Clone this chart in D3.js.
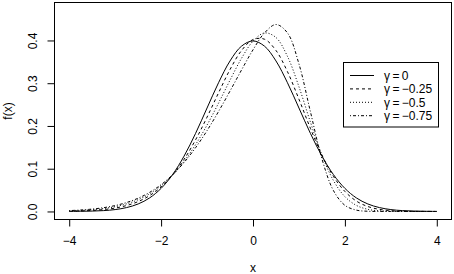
<!DOCTYPE html>
<html>
<head>
<meta charset="utf-8">
<script src="https://cdn.jsdelivr.net/npm/d3@7"></script>
<style>
  html, body { margin: 0; padding: 0; background: #fff; }
  svg { display: block; }
  text { font-family: "Liberation Sans", Arial, Helvetica, sans-serif; fill: #000; }
</style>
</head>
<body>
<svg id="chart" width="454" height="274"></svg>
<script>
// ---- data ----
const xValues = [-4, -3.75, -3.5, -3.25, -3, -2.75, -2.5, -2.25, -2, -1.75, -1.5, -1.25, -1, -0.75, -0.5, -0.25,
  0, 0.25, 0.5, 0.75, 1, 1.25, 1.5, 1.75, 2, 2.25, 2.5, 2.75, 3, 3.25, 3.5, 3.75, 4];

const densGamma0 = [0.0001, 0.0004, 0.0009, 0.0020, 0.0044, 0.0091, 0.0175, 0.0317, 0.0540, 0.0863, 0.1295, 0.1826, 0.2420, 0.3011, 0.3521, 0.3867,
  0.3989, 0.3867, 0.3521, 0.3011, 0.2420, 0.1826, 0.1295, 0.0863, 0.0540, 0.0317, 0.0175, 0.0091, 0.0044, 0.0020, 0.0009, 0.0004, 0.0001];

const densGammaM025 = [0.0006, 0.0013, 0.0024, 0.0045, 0.0080, 0.0139, 0.0231, 0.0371, 0.0573, 0.0852, 0.1219, 0.1675, 0.2206, 0.2774, 0.3320, 0.3764,
  0.4021, 0.4029, 0.3766, 0.3270, 0.2626, 0.1943, 0.1320, 0.0822, 0.0468, 0.0243, 0.0115, 0.0049, 0.0019, 0.0007, 0.0002, 0.0001, 0.0000];

const densGammaM05 = [0.0013, 0.0023, 0.0040, 0.0068, 0.0112, 0.0178, 0.0275, 0.0413, 0.0603, 0.0853, 0.1172, 0.1562, 0.2021, 0.2534, 0.3072, 0.3582,
  0.3983, 0.4176, 0.4069, 0.3628, 0.2918, 0.2089, 0.1317, 0.0725, 0.0346, 0.0142, 0.0050, 0.0015, 0.0004, 0.0001, 0.0000, 0.0000, 0.0000];

const densGammaM075 = [0.0020, 0.0034, 0.0056, 0.0089, 0.0138, 0.0210, 0.0310, 0.0447, 0.0627, 0.0859, 0.1146, 0.1491, 0.1891, 0.2338, 0.2817, 0.3309,
  0.3781, 0.4176, 0.4373, 0.4177, 0.3451, 0.2332, 0.1231, 0.0490, 0.0144, 0.0031, 0.0005, 0.0001, 0.0000, 0.0000, 0.0000, 0.0000, 0.0000];

const legendLabels = ["\u03B3\u2009=\u20090", "\u03B3\u2009=\u2009\u22120.25", "\u03B3\u2009=\u2009\u22120.5", "\u03B3\u2009=\u2009\u22120.75"];
const xTickValues = [-4, -2, 0, 2, 4];
const yTickValues = [0, 0.1, 0.2, 0.3, 0.4];
const xLimits = [-4, 4];
const yLimits = [0, 0.47];
const xLabel = "x";
const yLabel = "f(x)";

// ---- styles / layout ----
const dashStyles = [null, "3,3", "1,2", "1,2,3,2"];
const box = { left: 54.5, right: 451.5, top: 2.5, bottom: 219.5 };
const fontSize = 12;

const series = [densGamma0, densGammaM025, densGammaM05, densGammaM075];

const svg = d3.select("#chart");

// R-style 4% axis extension
const xExt = (xLimits[1] - xLimits[0]) * 0.04;
const yExt = (yLimits[1] - yLimits[0]) * 0.04;
const x = d3.scaleLinear().domain([xLimits[0] - xExt, xLimits[1] + xExt]).range([box.left, box.right]);
const y = d3.scaleLinear().domain([yLimits[0] - yExt, yLimits[1] + yExt]).range([box.bottom, box.top]);

// clip
svg.append("defs").append("clipPath").attr("id", "clip")
  .append("rect").attr("x", box.left).attr("y", box.top)
  .attr("width", box.right - box.left).attr("height", box.bottom - box.top);

// curves
const line = d3.line()
  .x((d, i) => x(xValues[i]))
  .y(d => y(d))
  .curve(d3.curveCatmullRom);

const curvesG = svg.append("g").attr("clip-path", "url(#clip)");
series.forEach((s, k) => {
  curvesG.append("path")
    .attr("d", line(s))
    .attr("fill", "none")
    .attr("stroke", "#000")
    .attr("stroke-width", 1)
    .attr("stroke-dasharray", dashStyles[k]);
});

// x axis
const xAxis = d3.axisBottom(x).tickValues(xTickValues)
  .tickSize(7).tickPadding(10)
  .tickFormat(d => d < 0 ? "\u2212" + Math.abs(d) : String(d));
const gx = svg.append("g").attr("transform", `translate(0,${box.bottom})`).call(xAxis);
gx.select(".domain").remove();
gx.selectAll(".tick line").attr("stroke", "#000");
gx.selectAll(".tick text").attr("font-size", fontSize).attr("font-family", null).style("fill", "#000");

// y axis
const yAxis = d3.axisLeft(y).tickValues(yTickValues)
  .tickSize(7).tickPadding(10)
  .tickFormat(d3.format(".1f"));
const gy = svg.append("g").attr("transform", `translate(${box.left},0)`).call(yAxis);
gy.select(".domain").remove();
gy.selectAll(".tick line").attr("stroke", "#000");
gy.selectAll(".tick text")
  .attr("font-size", fontSize).attr("font-family", null)
  .attr("x", null).attr("dy", null)
  .attr("text-anchor", "middle")
  .attr("transform", "translate(-17.3,0) rotate(-90)")
  .style("fill", "#000");

// box
svg.append("rect")
  .attr("x", box.left).attr("y", box.top)
  .attr("width", box.right - box.left).attr("height", box.bottom - box.top)
  .attr("fill", "none").attr("stroke", "#000").attr("stroke-width", 1);

// axis titles
svg.append("text")
  .attr("x", (box.left + box.right) / 2).attr("y", 271.5)
  .attr("text-anchor", "middle").attr("font-size", fontSize)
  .text(xLabel);
svg.append("text")
  .attr("transform", `translate(11.5,${(box.top + box.bottom) / 2}) rotate(-90)`)
  .attr("text-anchor", "middle").attr("font-size", fontSize)
  .text(yLabel);

// legend
const leg = { left: 343.5, top: 62.5, width: 95, height: 64.5, rowY0: 75.5, rowStep: 13.4, lineX0: 350, lineX1: 374, textX: 384 };
const lg = svg.append("g");
lg.append("rect")
  .attr("x", leg.left).attr("y", leg.top).attr("width", leg.width).attr("height", leg.height)
  .attr("fill", "#fff").attr("stroke", "#000").attr("stroke-width", 1);
legendLabels.forEach((lab, k) => {
  const ry = leg.rowY0 + k * leg.rowStep;
  lg.append("line")
    .attr("x1", leg.lineX0).attr("x2", leg.lineX1)
    .attr("y1", ry).attr("y2", ry)
    .attr("stroke", "#000").attr("stroke-width", 1)
    .attr("stroke-dasharray", dashStyles[k]);
  lg.append("text")
    .attr("x", leg.textX).attr("y", ry).attr("dy", "0.35em")
    .attr("font-size", fontSize)
    .text(lab);
});
</script>
</body>
</html>
